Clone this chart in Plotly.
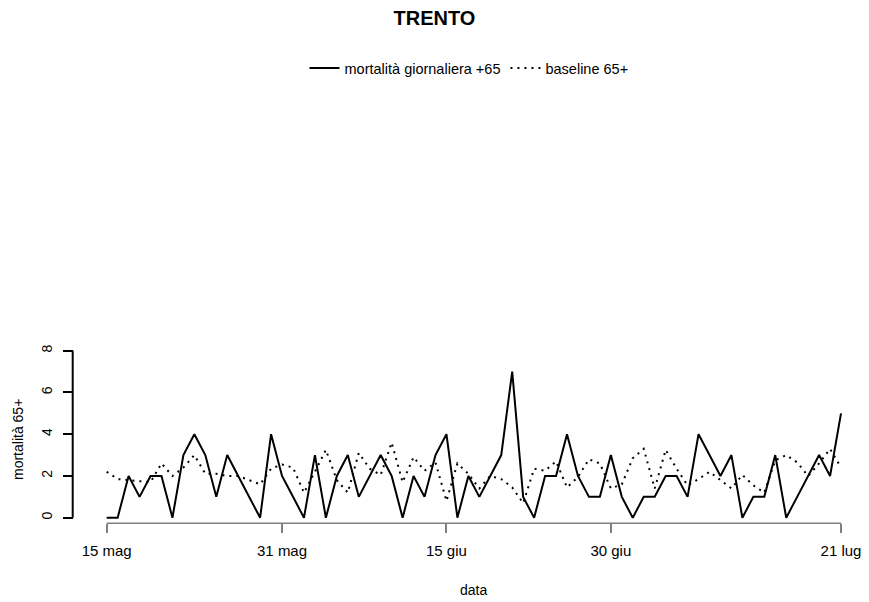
import pandas as pd
import plotly.graph_objects as go

# daily data, 15 May -> 21 Jul
start_date = "2020-05-15"
end_date = "2020-07-21"
mortalita = [0, 0, 2, 1, 2, 2, 0, 3, 4, 3, 1, 3, 2, 1, 0, 4, 2, 1, 0, 3, 0, 2, 3, 1,
             2, 3, 2, 0, 2, 1, 3, 4, 0, 2, 1, 2, 3, 7, 1, 0, 2, 2, 4, 2, 1, 1, 3,
             1, 0, 1, 1, 2, 2, 1, 4, 3, 2, 3, 0, 1, 1, 3, 0, 1, 2, 3, 2, 5]
baseline = [2.2, 1.85, 1.8, 1.75, 1.7, 2.6, 2.0, 2.4, 3.0, 2.1, 2.1, 2.0, 2.0, 1.8,
            1.6, 2.35, 2.55, 2.4, 1.2, 2.2, 3.25, 1.8, 1.2, 3.1, 2.35, 2.05, 3.6,
            1.7, 2.9, 2.25, 2.65, 0.8, 2.6, 2.1, 1.4, 2.0, 1.85, 1.45, 0.7, 2.35,
            2.25, 2.7, 1.45, 1.95, 2.8, 2.6, 1.4, 1.6, 2.85, 3.3, 1.4, 3.25, 2.35,
            1.55, 1.85, 2.2, 1.8, 1.4, 2.05, 1.55, 1.2, 2.75, 3.0, 2.65, 2.0, 2.6,
            3.3, 2.4]
xtick_vals = ["2020-05-15", "2020-05-31", "2020-06-15", "2020-06-30", "2020-07-21"]
xtick_text = ["15 mag", "31 mag", "15 giu", "30 giu", "21 lug"]
ytick_vals = [0, 2, 4, 6, 8]

dates = pd.date_range(start_date, end_date, freq="D")

# page has an 8px body margin: shrink the figure so it fills the 869x602 window
OFF = 8
W, H = 869-OFF, 602-OFF
font = "Liberation Sans, Arial, sans-serif"

def px(x):
  """window pixel x -> paper fraction"""
  return (x-OFF)/W

def py(y):
  """window pixel y (from top) -> paper fraction"""
  return 1-(y-OFF)/H

# pixel geometry of the R-like layout (window coords)
xdom = [px(101.2), px(846.5)]
ydom = [py(521.9), py(346.5)]
xaxis_pos = py(523.3)
yaxis_pos = px(72.7)

fig = go.Figure()
fig.add_trace(go.Scatter(
  x=dates, y=mortalita, mode="lines", name="mortalità giornaliera +65",
  line=dict(color="black", width=2),
))
fig.add_trace(go.Scatter(
  x=dates, y=baseline, mode="lines", name="baseline 65+",
  line=dict(color="black", width=2, dash="2px,5px"),
))

# detached axis lines, R style (from first to last tick)
fig.add_shape(type="line", xref="x", yref="paper",
              x0=xtick_vals[0], x1=xtick_vals[-1], y0=xaxis_pos, y1=xaxis_pos,
              line=dict(color="#7f7f7f", width=1.5))
fig.add_shape(type="line", xref="paper", yref="y",
              x0=yaxis_pos, x1=yaxis_pos, y0=ytick_vals[0], y1=ytick_vals[-1],
              line=dict(color="black", width=2))

fig.update_layout(
  width=W, height=H,
  margin=dict(l=0, r=0, t=0, b=0, autoexpand=False),
  paper_bgcolor="white", plot_bgcolor="white",
  font=dict(family=font, size=14, color="black"),
  title=dict(text="<b>TRENTO</b>", x=px(434.5), xanchor="center", y=py(18), yanchor="middle",
             font=dict(family=font, size=20, color="black")),
  showlegend=True,
  legend=dict(orientation="h", x=px(469), xanchor="center", y=py(68), yanchor="middle",
              font=dict(size=14.5), itemwidth=30, bgcolor="rgba(0,0,0,0)"),
  xaxis=dict(
    domain=xdom, anchor="free", position=xaxis_pos, automargin=False,
    range=["2020-05-14 12:00", "2020-07-21 12:00"],
    tickmode="array", tickvals=xtick_vals, ticktext=xtick_text,
    ticks="outside", ticklen=9, tickwidth=1.5, tickcolor="#7f7f7f",
    tickfont=dict(size=15), ticklabelstandoff=5,
    showgrid=False, zeroline=False, showline=False,
  ),
  yaxis=dict(
    domain=ydom, anchor="free", position=yaxis_pos, automargin=False,
    range=[-0.2, 8.2],
    tickmode="array", tickvals=ytick_vals,
    ticks="outside", ticklen=10, tickwidth=2, tickcolor="black",
    tickangle=-90, tickfont=dict(size=14), ticklabelstandoff=5,
    showgrid=False, zeroline=False, showline=False,
  ),
  annotations=[
    dict(text="data", xref="paper", yref="paper", x=px(473.8), y=py(590),
         xanchor="center", yanchor="middle", showarrow=False, font=dict(size=14)),
    dict(text="mortalità 65+", xref="paper", yref="paper", x=px(18), y=py(440),
         xanchor="center", yanchor="middle", textangle=-90, showarrow=False,
         font=dict(size=14)),
  ],
)

fig.write_html("out.html")
